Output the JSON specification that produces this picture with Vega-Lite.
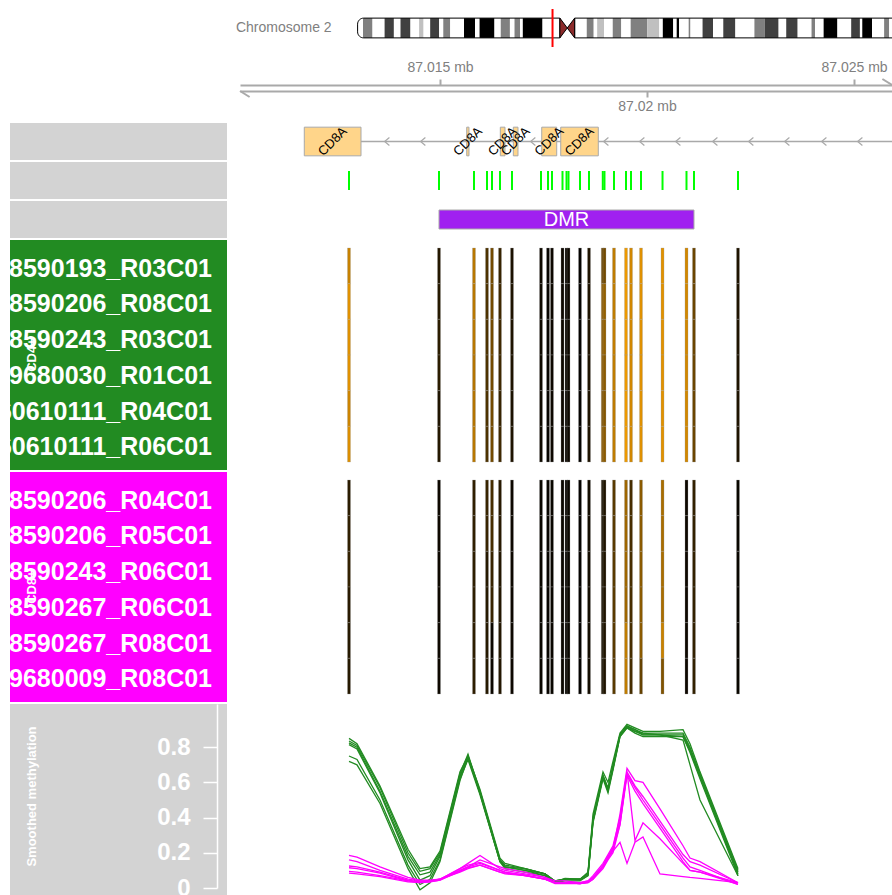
{
"$schema": "https://vega.github.io/schema/vega-lite/v6.json",
"padding": {"left": 10, "top": 8, "right": 0, "bottom": 0},
"background": "white",
"config": {"view": {"stroke": null}, "font": "Liberation Sans"},
"datasets": {
"samples": [
{"id":"S1","sample":"6198590193_R03C01","group":"CD4+"},
{"id":"S2","sample":"6198590206_R08C01","group":"CD4+"},
{"id":"S3","sample":"6198590243_R03C01","group":"CD4+"},
{"id":"S4","sample":"5579680030_R01C01","group":"CD4+"},
{"id":"S5","sample":"7760610111_R04C01","group":"CD4+"},
{"id":"S6","sample":"7760610111_R06C01","group":"CD4+"},
{"id":"S7","sample":"6198590206_R04C01","group":"CD8+"},
{"id":"S8","sample":"6198590206_R05C01","group":"CD8+"},
{"id":"S9","sample":"6198590243_R06C01","group":"CD8+"},
{"id":"S10","sample":"6198590267_R06C01","group":"CD8+"},
{"id":"S11","sample":"6198590267_R08C01","group":"CD8+"},
{"id":"S12","sample":"5579680009_R08C01","group":"CD8+"}
],
"groups": [
{"group":"CD4+","anchor":"6198590243_R03C01","f":0.101},
{"group":"CD8+","anchor":"6198590243_R06C01","f":0.101}
],
"cpg": [
{"pos":87012802,"S1":0.78,"S2":0.88,"S3":0.87,"S4":0.88,"S5":0.8,"S6":0.86,"S7":0.17,"S8":0.19,"S9":0.2,"S10":0.16,"S11":0.15,"S12":0.15},
{"pos":87014976,"S1":0.14,"S2":0.15,"S3":0.17,"S4":0.17,"S5":0.12,"S6":0.14,"S7":0.05,"S8":0.05,"S9":0.05,"S10":0.05,"S11":0.05,"S12":0.05},
{"pos":87015821,"S1":0.72,"S2":0.72,"S3":0.72,"S4":0.7,"S5":0.7,"S6":0.72,"S7":0.19,"S8":0.19,"S9":0.18,"S10":0.18,"S11":0.18,"S12":0.18},
{"pos":87016135,"S1":0.3,"S2":0.3,"S3":0.3,"S4":0.3,"S5":0.3,"S6":0.3,"S7":0.22,"S8":0.22,"S9":0.15,"S10":0.15,"S11":0.15,"S12":0.15},
{"pos":87016256,"S1":0.45,"S2":0.45,"S3":0.45,"S4":0.45,"S5":0.45,"S6":0.45,"S7":0.28,"S8":0.28,"S9":0.22,"S10":0.22,"S11":0.05,"S12":0.05},
{"pos":87016449,"S1":0.22,"S2":0.25,"S3":0.25,"S4":0.25,"S5":0.22,"S6":0.25,"S7":0.16,"S8":0.16,"S9":0.14,"S10":0.14,"S11":0.14,"S12":0.14},
{"pos":87016739,"S1":0.11,"S2":0.12,"S3":0.12,"S4":0.12,"S5":0.11,"S6":0.12,"S7":0.05,"S8":0.05,"S9":0.05,"S10":0.05,"S11":0.05,"S12":0.05},
{"pos":87017440,"S1":0.06,"S2":0.06,"S3":0.06,"S4":0.06,"S5":0.06,"S6":0.06,"S7":0.04,"S8":0.04,"S9":0.04,"S10":0.04,"S11":0.04,"S12":0.04},
{"pos":87017609,"S1":0.03,"S2":0.03,"S3":0.03,"S4":0.03,"S5":0.03,"S6":0.03,"S7":0.03,"S8":0.03,"S9":0.03,"S10":0.03,"S11":0.03,"S12":0.03},
{"pos":87017705,"S1":0.05,"S2":0.05,"S3":0.05,"S4":0.05,"S5":0.05,"S6":0.05,"S7":0.04,"S8":0.04,"S9":0.04,"S10":0.04,"S11":0.04,"S12":0.04},
{"pos":87017959,"S1":0.05,"S2":0.05,"S3":0.05,"S4":0.05,"S5":0.05,"S6":0.05,"S7":0.04,"S8":0.04,"S9":0.04,"S10":0.04,"S11":0.04,"S12":0.04},
{"pos":87018056,"S1":0.04,"S2":0.04,"S3":0.04,"S4":0.04,"S5":0.04,"S6":0.04,"S7":0.03,"S8":0.03,"S9":0.03,"S10":0.03,"S11":0.03,"S12":0.03},
{"pos":87018104,"S1":0.05,"S2":0.05,"S3":0.05,"S4":0.05,"S5":0.05,"S6":0.05,"S7":0.04,"S8":0.04,"S9":0.04,"S10":0.04,"S11":0.04,"S12":0.04},
{"pos":87018382,"S1":0.02,"S2":0.02,"S3":0.02,"S4":0.02,"S5":0.02,"S6":0.02,"S7":0.02,"S8":0.02,"S9":0.02,"S10":0.02,"S11":0.02,"S12":0.02},
{"pos":87018599,"S1":0.12,"S2":0.12,"S3":0.13,"S4":0.12,"S5":0.12,"S6":0.12,"S7":0.08,"S8":0.08,"S9":0.08,"S10":0.08,"S11":0.08,"S12":0.08},
{"pos":87018932,"S1":0.42,"S2":0.55,"S3":0.55,"S4":0.55,"S5":0.5,"S6":0.55,"S7":0.1,"S8":0.1,"S9":0.1,"S10":0.1,"S11":0.1,"S12":0.1},
{"pos":87018973,"S1":0.45,"S2":0.58,"S3":0.58,"S4":0.55,"S5":0.52,"S6":0.55,"S7":0.12,"S8":0.12,"S9":0.12,"S10":0.12,"S11":0.12,"S12":0.12},
{"pos":87019203,"S1":0.75,"S2":0.75,"S3":0.76,"S4":0.75,"S5":0.74,"S6":0.75,"S7":0.35,"S8":0.35,"S9":0.35,"S10":0.35,"S11":0.35,"S12":0.35},
{"pos":87019493,"S1":0.93,"S2":0.93,"S3":0.93,"S4":0.93,"S5":0.93,"S6":0.93,"S7":0.62,"S8":0.62,"S9":0.62,"S10":0.62,"S11":0.75,"S12":0.75},
{"pos":87019614,"S1":0.82,"S2":0.82,"S3":0.82,"S4":0.82,"S5":0.82,"S6":0.82,"S7":0.28,"S8":0.28,"S9":0.28,"S10":0.28,"S11":0.28,"S12":0.28},
{"pos":87019855,"S1":0.88,"S2":0.88,"S3":0.88,"S4":0.88,"S5":0.88,"S6":0.88,"S7":0.55,"S8":0.55,"S9":0.55,"S10":0.55,"S11":0.55,"S12":0.4},
{"pos":87020375,"S1":0.88,"S2":0.88,"S3":0.88,"S4":0.88,"S5":0.88,"S6":0.88,"S7":0.66,"S8":0.66,"S9":0.66,"S10":0.66,"S11":0.78,"S12":0.5},
{"pos":87020954,"S1":0.82,"S2":0.82,"S3":0.82,"S4":0.82,"S5":0.82,"S6":0.82,"S7":0.05,"S8":0.05,"S9":0.05,"S10":0.05,"S11":0.05,"S12":0.05},
{"pos":87021135,"S1":0.42,"S2":0.42,"S3":0.42,"S4":0.42,"S5":0.42,"S6":0.42,"S7":0.2,"S8":0.2,"S9":0.2,"S10":0.2,"S11":0.2,"S12":0.2},
{"pos":87022198,"S1":0.12,"S2":0.12,"S3":0.12,"S4":0.12,"S5":0.12,"S6":0.12,"S7":0.04,"S8":0.04,"S9":0.04,"S10":0.04,"S11":0.04,"S12":0.04}
],
"smooth": [
{"pos":87012802,"S1":0.85,"S2":0.835,"S3":0.825,"S4":0.815,"S5":0.75,"S6":0.72,"S7":0.185,"S8":0.16,"S9":0.125,"S10":0.115,"S11":0.095,"S12":0.085},
{"pos":87012995,"S1":0.82,"S2":0.81,"S3":0.8,"S4":0.79,"S5":0.73,"S6":0.7,"S7":0.175,"S8":0.15,"S9":0.12,"S10":0.11,"S11":0.09,"S12":0.08},
{"pos":87013551,"S1":0.58,"S2":0.57,"S3":0.55,"S4":0.54,"S5":0.5,"S6":0.48,"S7":0.12,"S8":0.1,"S9":0.09,"S10":0.085,"S11":0.07,"S12":0.065},
{"pos":87014227,"S1":0.22,"S2":0.2,"S3":0.18,"S4":0.16,"S5":0.13,"S6":0.11,"S7":0.06,"S8":0.05,"S9":0.045,"S10":0.04,"S11":0.04,"S12":0.035},
{"pos":87014517,"S1":0.11,"S2":0.095,"S3":0.075,"S4":0.045,"S5":0.02,"S6":-0.01,"S7":0.045,"S8":0.04,"S9":0.035,"S10":0.03,"S11":0.035,"S12":0.03},
{"pos":87014758,"S1":0.12,"S2":0.11,"S3":0.09,"S4":0.07,"S5":0.05,"S6":0.03,"S7":0.045,"S8":0.04,"S9":0.04,"S10":0.035,"S11":0.04,"S12":0.035},
{"pos":87015000,"S1":0.21,"S2":0.2,"S3":0.19,"S4":0.18,"S5":0.16,"S6":0.15,"S7":0.05,"S8":0.05,"S9":0.05,"S10":0.045,"S11":0.05,"S12":0.045},
{"pos":87015483,"S1":0.66,"S2":0.65,"S3":0.64,"S4":0.63,"S5":0.62,"S6":0.61,"S7":0.1,"S8":0.11,"S9":0.09,"S10":0.1,"S11":0.11,"S12":0.095},
{"pos":87015676,"S1":0.75,"S2":0.76,"S3":0.74,"S4":0.75,"S5":0.73,"S6":0.74,"S7":0.12,"S8":0.14,"S9":0.11,"S10":0.12,"S11":0.13,"S12":0.115},
{"pos":87015966,"S1":0.56,"S2":0.55,"S3":0.54,"S4":0.55,"S5":0.53,"S6":0.54,"S7":0.16,"S8":0.185,"S9":0.13,"S10":0.14,"S11":0.145,"S12":0.13},
{"pos":87016449,"S1":0.17,"S2":0.16,"S3":0.15,"S4":0.16,"S5":0.15,"S6":0.15,"S7":0.12,"S8":0.11,"S9":0.09,"S10":0.1,"S11":0.1,"S12":0.09},
{"pos":87016570,"S1":0.14,"S2":0.13,"S3":0.12,"S4":0.12,"S5":0.11,"S6":0.12,"S7":0.11,"S8":0.1,"S9":0.085,"S10":0.09,"S11":0.09,"S12":0.08},
{"pos":87017053,"S1":0.11,"S2":0.11,"S3":0.1,"S4":0.11,"S5":0.09,"S6":0.1,"S7":0.09,"S8":0.08,"S9":0.07,"S10":0.07,"S11":0.075,"S12":0.07},
{"pos":87017536,"S1":0.08,"S2":0.08,"S3":0.07,"S4":0.08,"S5":0.07,"S6":0.08,"S7":0.06,"S8":0.06,"S9":0.05,"S10":0.05,"S11":0.05,"S12":0.05},
{"pos":87017778,"S1":0.035,"S2":0.04,"S3":0.03,"S4":0.04,"S5":0.03,"S6":0.04,"S7":0.04,"S8":0.03,"S9":0.03,"S10":0.03,"S11":0.03,"S12":0.025},
{"pos":87018019,"S1":0.055,"S2":0.05,"S3":0.05,"S4":0.05,"S5":0.04,"S6":0.05,"S7":0.04,"S8":0.03,"S9":0.03,"S10":0.03,"S11":0.03,"S12":0.025},
{"pos":87018382,"S1":0.05,"S2":0.05,"S3":0.045,"S4":0.05,"S5":0.04,"S6":0.05,"S7":0.03,"S8":0.03,"S9":0.025,"S10":0.025,"S11":0.025,"S12":0.025},
{"pos":87018575,"S1":0.09,"S2":0.08,"S3":0.07,"S4":0.08,"S5":0.07,"S6":0.08,"S7":0.04,"S8":0.04,"S9":0.035,"S10":0.035,"S11":0.03,"S12":0.03},
{"pos":87018696,"S1":0.42,"S2":0.4,"S3":0.38,"S4":0.39,"S5":0.37,"S6":0.38,"S7":0.06,"S8":0.07,"S9":0.06,"S10":0.06,"S11":0.05,"S12":0.05},
{"pos":87018937,"S1":0.66,"S2":0.64,"S3":0.63,"S4":0.64,"S5":0.62,"S6":0.63,"S7":0.12,"S8":0.14,"S9":0.13,"S10":0.12,"S11":0.12,"S12":0.11},
{"pos":87019058,"S1":0.6,"S2":0.57,"S3":0.55,"S4":0.56,"S5":0.54,"S6":0.56,"S7":0.17,"S8":0.19,"S9":0.18,"S10":0.17,"S11":0.17,"S12":0.16},
{"pos":87019179,"S1":0.72,"S2":0.7,"S3":0.68,"S4":0.69,"S5":0.67,"S6":0.68,"S7":0.22,"S8":0.24,"S9":0.23,"S10":0.22,"S11":0.21,"S12":0.2},
{"pos":87019348,"S1":0.88,"S2":0.87,"S3":0.86,"S4":0.87,"S5":0.86,"S6":0.87,"S7":0.42,"S8":0.4,"S9":0.38,"S10":0.36,"S11":0.26,"S12":0.36},
{"pos":87019517,"S1":0.93,"S2":0.92,"S3":0.91,"S4":0.92,"S5":0.91,"S6":0.92,"S7":0.68,"S8":0.66,"S9":0.65,"S10":0.64,"S11":0.14,"S12":0.66},
{"pos":87019710,"S1":0.91,"S2":0.9,"S3":0.89,"S4":0.9,"S5":0.88,"S6":0.89,"S7":0.61,"S8":0.58,"S9":0.57,"S10":0.55,"S11":0.26,"S12":0.27},
{"pos":87019903,"S1":0.89,"S2":0.88,"S3":0.88,"S4":0.87,"S5":0.86,"S6":0.87,"S7":0.6,"S8":0.52,"S9":0.5,"S10":0.48,"S11":0.29,"S12":0.37},
{"pos":87020314,"S1":0.89,"S2":0.88,"S3":0.87,"S4":0.87,"S5":0.86,"S6":0.87,"S7":0.45,"S8":0.38,"S9":0.36,"S10":0.34,"S11":0.08,"S12":0.28},
{"pos":87020870,"S1":0.9,"S2":0.88,"S3":0.87,"S4":0.86,"S5":0.86,"S6":0.84,"S7":0.24,"S8":0.19,"S9":0.17,"S10":0.15,"S11":0.065,"S12":0.14},
{"pos":87021039,"S1":0.82,"S2":0.8,"S3":0.79,"S4":0.78,"S5":0.77,"S6":0.7,"S7":0.17,"S8":0.15,"S9":0.12,"S10":0.1,"S11":0.06,"S12":0.1},
{"pos":87021280,"S1":0.66,"S2":0.65,"S3":0.64,"S4":0.63,"S5":0.62,"S6":0.5,"S7":0.15,"S8":0.13,"S9":0.1,"S10":0.09,"S11":0.055,"S12":0.09},
{"pos":87022198,"S1":0.11,"S2":0.1,"S3":0.09,"S4":0.08,"S5":0.07,"S6":0.07,"S7":0.03,"S8":0.03,"S9":0.02,"S10":0.02,"S11":0.03,"S12":0.03}
],
"exons": [
{"gene":"CD8A","start":87011722,"end":87013092},
{"gene":"CD8A","start":87015645,"end":87015700},
{"gene":"CD8A","start":87016457,"end":87016570},
{"gene":"CD8A","start":87016771,"end":87016884},
{"gene":"CD8A","start":87017457,"end":87017819},
{"gene":"CD8A","start":87017916,"end":87018824}
],
"genespan": [{"gene":"CD8A","start":87011722,"end":87035519}],
"arrows": [
{"gene":"CD8A","pos":87013720},{"gene":"CD8A","pos":87014589},{"gene":"CD8A","pos":87017246},
{"gene":"CD8A","pos":87019010},{"gene":"CD8A","pos":87019879},{"gene":"CD8A","pos":87020749},
{"gene":"CD8A","pos":87021643},{"gene":"CD8A","pos":87022512},{"gene":"CD8A","pos":87023382},
{"gene":"CD8A","pos":87024276},{"gene":"CD8A","pos":87025145}
],
"dmr": [{"name":"DMR","start":87014976,"end":87021135}],
"ticks": [{"pos":87015000},{"pos":87020000},{"pos":87025000}],
"bands": [
{"start":0,"end":2.4,"stain":"gneg"},{"start":2.4,"end":6.65,"stain":"gpos50"},{"start":6.65,"end":12.05,"stain":"gneg"},
{"start":12.05,"end":16.2,"stain":"gpos75"},{"start":16.2,"end":19.15,"stain":"gneg"},{"start":19.15,"end":23.6,"stain":"gpos75"},
{"start":23.6,"end":27.45,"stain":"gneg"},{"start":27.45,"end":29.45,"stain":"gpos25"},{"start":29.45,"end":32.4,"stain":"gneg"},
{"start":32.4,"end":36.4,"stain":"gpos75"},{"start":36.4,"end":38.25,"stain":"gneg"},{"start":38.25,"end":41.35,"stain":"gpos50"},
{"start":41.35,"end":47.5,"stain":"gneg"},{"start":47.5,"end":52.4,"stain":"gpos100"},{"start":52.4,"end":54.45,"stain":"gneg"},
{"start":54.45,"end":61.1,"stain":"gpos100"},{"start":61.1,"end":63.9,"stain":"gneg"},{"start":63.9,"end":68.0,"stain":"gpos50"},
{"start":68.0,"end":70.05,"stain":"gneg"},{"start":70.05,"end":72.5,"stain":"gpos50"},{"start":72.5,"end":73.75,"stain":"gneg"},
{"start":73.75,"end":82.55,"stain":"gpos100"},{"start":82.55,"end":90.3,"stain":"gneg"},
{"start":96.9,"end":102.3,"stain":"gneg"},{"start":102.3,"end":105.4,"stain":"gpos50"},{"start":105.4,"end":106.95,"stain":"gneg"},
{"start":106.95,"end":110.05,"stain":"gpos25"},{"start":110.05,"end":113.9,"stain":"gneg"},{"start":113.9,"end":117.7,"stain":"gpos50"},
{"start":117.7,"end":121.9,"stain":"gneg"},{"start":121.9,"end":129.3,"stain":"gpos50"},{"start":129.3,"end":134.7,"stain":"gpos25"},
{"start":134.7,"end":136.25,"stain":"gneg"},{"start":136.25,"end":140.9,"stain":"gpos100"},{"start":140.9,"end":142.45,"stain":"gneg"},
{"start":142.45,"end":143.5,"stain":"gpos100"},{"start":143.5,"end":147.8,"stain":"gneg"},{"start":147.8,"end":148.6,"stain":"gpos50"},
{"start":148.6,"end":154,"stain":"gneg"},{"start":154,"end":158.65,"stain":"gpos75"},{"start":158.65,"end":163.25,"stain":"gneg"},
{"start":163.25,"end":168.65,"stain":"gpos75"},{"start":168.65,"end":177.15,"stain":"gneg"},{"start":177.15,"end":181.8,"stain":"gpos50"},
{"start":181.8,"end":187.95,"stain":"gpos75"},{"start":187.95,"end":191.35,"stain":"gneg"},{"start":191.35,"end":196.45,"stain":"gpos75"},
{"start":196.45,"end":202.65,"stain":"gneg"},{"start":202.65,"end":204.2,"stain":"gpos50"},{"start":204.2,"end":208.05,"stain":"gneg"},
{"start":208.05,"end":214.2,"stain":"gpos100"},{"start":214.2,"end":220.35,"stain":"gneg"},{"start":220.35,"end":224.25,"stain":"gpos75"},
{"start":224.25,"end":225.3,"stain":"gneg"},{"start":225.3,"end":229.65,"stain":"gpos100"},{"start":229.65,"end":235.05,"stain":"gneg"},
{"start":235.05,"end":237.3,"stain":"gpos50"},{"start":237.3,"end":243.2,"stain":"gneg"}
],
"cen": [{"mb":90.3,"top":0.52,"bot":-0.52},{"mb":93.6,"top":0,"bot":0},{"mb":96.9,"top":0.52,"bot":-0.52}]
},
"spacing": 2,
"vconcat": [
{
"width": 882, "height": 42,
"layer": [
{"data": {"name": "bands"}, "mark": {"type": "rect", "clip": true},
 "encoding": {
  "x": {"field": "start", "type": "quantitative", "scale": {"domain": [-155.18, 238.57], "nice": false, "zero": false}, "axis": null},
  "x2": {"field": "end"},
  "y": {"datum": -0.52, "type": "quantitative", "scale": {"domain": [-1.21, 1], "nice": false, "zero": false}, "axis": null},
  "y2": {"datum": 0.52},
  "color": {"field": "stain", "type": "nominal", "scale": {"domain": ["gneg","gpos25","gpos50","gpos75","gpos100"], "range": ["#FFFFFF","#C0C0C0","#808080","#404040","#000000"]}, "legend": null}
 }},
{"data": {"values": [{"arm": "p", "start": 0, "end": 90.3}]}, "mark": {"type": "rect", "fillOpacity": 0, "stroke": "black", "strokeWidth": 1, "cornerRadiusTopLeft": 6, "cornerRadiusBottomLeft": 6, "clip": true},
 "encoding": {"x": {"field": "start", "type": "quantitative"}, "x2": {"field": "end"}, "y": {"datum": -0.52, "type": "quantitative"}, "y2": {"datum": 0.52}}},
{"data": {"values": [{"arm": "q", "start": 96.9, "end": 243.2}]}, "mark": {"type": "rect", "fillOpacity": 0, "stroke": "black", "strokeWidth": 1, "clip": true},
 "encoding": {"x": {"field": "start", "type": "quantitative"}, "x2": {"field": "end"}, "y": {"datum": -0.52, "type": "quantitative"}, "y2": {"datum": 0.52}}},
{"data": {"name": "cen"}, "mark": {"type": "area", "orient": "vertical", "fill": "#8B2B2B", "stroke": "black", "strokeWidth": 1},
 "encoding": {"x": {"field": "mb", "type": "quantitative"}, "y": {"field": "top", "type": "quantitative"}, "y2": {"field": "bot"}}},
{"data": {"values": [{"region": 87.018}]}, "mark": {"type": "rule", "color": "#FF0000", "strokeWidth": 2},
 "encoding": {"x": {"field": "region", "type": "quantitative"}, "y": {"datum": -1, "type": "quantitative"}, "y2": {"datum": 1}}},
{"data": {"values": [{"label": "Chromosome 2", "mb": 0}]}, "mark": {"type": "text", "align": "right", "baseline": "middle", "dx": -26, "fontSize": 14, "color": "#808080"},
 "encoding": {"x": {"field": "mb", "type": "quantitative"}, "y": {"datum": 0, "type": "quantitative"}, "text": {"field": "label"}}}
]
},
{
"hconcat": [
 {"width": 217, "height": 68, "data": {"values": [{"a": 1}]}, "mark": {"type": "point", "opacity": 0}, "encoding": {}},
 {
  "width": 652, "height": 68,
  "layer": [
   {"data": {"name": "ticks"}, "mark": {"type": "point", "opacity": 0},
    "encoding": {"x": {"field": "pos", "type": "quantitative", "scale": {"domain": [87010169, 87025918], "nice": false, "zero": false},
     "axis": {"orient": "top", "offset": -32, "values": [87015000, 87025000], "labelExpr": "format(datum.value/1000000, '.5~f') + ' mb'", "domainColor": "#A9A9A9", "domainWidth": 2, "tickColor": "#A9A9A9", "tickWidth": 2, "tickSize": 6, "labelColor": "#808080", "labelFontSize": 14, "labelFont": "Liberation Sans", "labelPadding": 5, "grid": false, "title": null, "labelFlush": false, "labelOverlap": false}},
     "y": {"datum": 0.5, "type": "quantitative", "scale": {"domain": [0, 1], "nice": false, "zero": false}, "axis": null}}},
   {"data": {"name": "ticks"}, "mark": {"type": "point", "opacity": 0},
    "encoding": {"x": {"field": "pos", "type": "quantitative",
     "axis": {"orient": "bottom", "offset": -30, "values": [87020000], "labelExpr": "format(datum.value/1000000, '.5~f') + ' mb'", "domainColor": "#A9A9A9", "domainWidth": 2, "tickColor": "#A9A9A9", "tickWidth": 2, "tickSize": 6, "labelColor": "#808080", "labelFontSize": 14, "labelFont": "Liberation Sans", "labelPadding": 2, "grid": false, "title": null, "labelFlush": false, "labelOverlap": false}},
     "y": {"datum": 0.5, "type": "quantitative"}}},
   {"data": {"values": [{"pos": 87025918}]}, "mark": {"type": "point", "shape": "M-1.2,-1L0,-0.25", "size": 256, "filled": false, "stroke": "#A9A9A9", "strokeWidth": 2, "opacity": 1},
    "encoding": {"x": {"field": "pos", "type": "quantitative", "axis": null}, "y": {"datum": 0.5, "type": "quantitative"}}},
   {"data": {"values": [{"pos": 87010169}]}, "mark": {"type": "point", "shape": "M0,0.5L1.2,1.25", "size": 256, "filled": false, "stroke": "#A9A9A9", "strokeWidth": 2, "opacity": 1},
    "encoding": {"x": {"field": "pos", "type": "quantitative", "axis": null}, "y": {"datum": 0.5, "type": "quantitative"}}}
  ],
  "resolve": {"axis": {"x": "independent"}}
 }
],
"spacing": 13, "bounds": "flush"
},
{"hconcat": [
  {"width": 217, "height": 37, "view": {"fill": "#D3D3D3"}, "data": {"values": [{"a": 1}]}, "mark": {"type": "point", "opacity": 0}, "encoding": {}},
  {"width": 652, "height": 37,
   "layer": [
    {"data": {"name": "genespan"}, "mark": {"type": "rule", "color": "#A9A9A9", "strokeWidth": 1.5, "clip": true},
     "encoding": {"x": {"field": "start", "type": "quantitative", "scale": {"domain": [87010169, 87025918], "nice": false, "zero": false}, "axis": null}, "x2": {"field": "end"},
      "y": {"field": "gene", "type": "nominal", "scale": {"type": "band", "paddingOuter": 0.145, "paddingInner": 0}, "axis": null}}},
    {"data": {"name": "arrows"}, "mark": {"type": "point", "shape": "M0.6,-1L-0.6,0L0.6,1", "size": 64, "filled": false, "stroke": "#A9A9A9", "strokeWidth": 1.2, "opacity": 1},
     "encoding": {"x": {"field": "pos", "type": "quantitative"}, "y": {"field": "gene", "type": "nominal"}}},
    {"data": {"name": "exons"}, "mark": {"type": "rect", "fill": "#FFD58A", "stroke": "#A9A9A9", "strokeWidth": 1, "clip": true},
     "encoding": {"x": {"field": "start", "type": "quantitative"}, "x2": {"field": "end"}, "y": {"field": "gene", "type": "nominal"}}},
    {"data": {"name": "exons"}, "transform": [{"calculate": "(datum.start + datum.end) / 2", "as": "mid"}],
     "mark": {"type": "text", "angle": -45, "fontSize": 13, "color": "black", "baseline": "middle"},
     "encoding": {"x": {"field": "mid", "type": "quantitative"}, "y": {"field": "gene", "type": "nominal"}, "text": {"field": "gene"}}}
   ]}
 ], "spacing": 13, "bounds": "flush"},
{"hconcat": [
  {"width": 217, "height": 37, "view": {"fill": "#D3D3D3"}, "data": {"values": [{"a": 1}]}, "mark": {"type": "point", "opacity": 0}, "encoding": {}},
  {"width": 652, "height": 37, "data": {"name": "cpg"},
   "mark": {"type": "tick", "color": "#00FF00", "thickness": 2, "size": 19, "opacity": 1},
   "encoding": {"x": {"field": "pos", "type": "quantitative", "scale": {"domain": [87010169, 87025918], "nice": false, "zero": false}, "axis": null},
    "y": {"datum": "CpG", "type": "nominal", "axis": null}}}
 ], "spacing": 13, "bounds": "flush"},
{"hconcat": [
  {"width": 217, "height": 37, "view": {"fill": "#D3D3D3"}, "data": {"values": [{"a": 1}]}, "mark": {"type": "point", "opacity": 0}, "encoding": {}},
  {"width": 652, "height": 37, "data": {"name": "dmr"},
   "layer": [
    {"mark": {"type": "rect", "fill": "#A020F0", "stroke": "#A9A9A9", "strokeWidth": 1},
     "encoding": {"x": {"field": "start", "type": "quantitative", "scale": {"domain": [87010169, 87025918], "nice": false, "zero": false}, "axis": null}, "x2": {"field": "end"},
      "y": {"field": "name", "type": "nominal", "scale": {"type": "band", "paddingOuter": 0.474, "paddingInner": 0}, "axis": null}}},
    {"transform": [{"calculate": "(datum.start + datum.end) / 2", "as": "mid"}],
     "mark": {"type": "text", "color": "white", "fontSize": 20, "baseline": "middle"},
     "encoding": {"x": {"field": "mid", "type": "quantitative"}, "y": {"field": "name", "type": "nominal"}, "text": {"field": "name"}}}
   ]}
 ], "spacing": 13, "bounds": "flush"},
{"hconcat": [
  {"width": 217, "height": 230, "view": {"fill": "#228B22"},
   "layer": [
    {"data": {"name": "samples"}, "transform": [{"filter": "datum.group == 'CD4+'"}],
     "mark": {"type": "text", "align": "right", "baseline": "middle", "fontSize": 25, "fontWeight": "bold", "color": "white", "clip": true, "dx": -15, "dy": 3},
     "encoding": {"x": {"datum": 1, "type": "quantitative", "scale": {"domain": [0, 1]}, "axis": null},
      "y": {"field": "sample", "type": "nominal", "scale": {"type": "band", "domain": ["6198590193_R03C01","6198590206_R08C01","6198590243_R03C01","5579680030_R01C01","7760610111_R04C01","7760610111_R06C01"], "paddingOuter": 0.224, "paddingInner": 0}, "axis": null},
      "text": {"field": "sample"}}},
    {"data": {"name": "groups"}, "transform": [{"filter": "datum.group == 'CD4+'"}],
     "mark": {"type": "text", "angle": 270, "baseline": "middle", "fontSize": 13, "fontWeight": "bold", "color": "white"},
     "encoding": {"x": {"field": "f", "type": "quantitative"}, "y": {"field": "anchor", "type": "nominal", "bandPosition": 1}, "text": {"field": "group"}}}
   ]},
  {"width": 652, "height": 230, "data": {"name": "cpg"},
   "transform": [
    {"fold": ["S1","S2","S3","S4","S5","S6","S7","S8","S9","S10","S11","S12"], "as": ["id", "beta"]},
    {"lookup": "id", "from": {"data": {"name": "samples"}, "key": "id", "fields": ["sample", "group"]}},
    {"filter": "datum.group == 'CD4+'"}
   ],
   "mark": {"type": "tick", "orient": "vertical", "thickness": 3, "size": 35.7, "opacity": 1, "stroke": "#A0A0A0", "strokeWidth": 0.6, "strokeOpacity": 0.5},
   "encoding": {
    "x": {"field": "pos", "type": "quantitative", "scale": {"domain": [87010169, 87025918], "nice": false, "zero": false}, "axis": null},
    "y": {"field": "sample", "type": "nominal", "scale": {"type": "band", "domain": ["6198590193_R03C01","6198590206_R08C01","6198590243_R03C01","5579680030_R01C01","7760610111_R04C01","7760610111_R06C01"], "paddingOuter": 0.224, "paddingInner": 0}, "axis": null},
    "color": {"field": "beta", "type": "quantitative", "scale": {"domain": [0, 1], "range": ["#000000", "#FFA500"], "interpolate": "rgb"}, "legend": null}
   }}
 ], "spacing": 13, "bounds": "flush"},
{"hconcat": [
  {"width": 217, "height": 230, "view": {"fill": "#FF00FF"},
   "layer": [
    {"data": {"name": "samples"}, "transform": [{"filter": "datum.group == 'CD8+'"}],
     "mark": {"type": "text", "align": "right", "baseline": "middle", "fontSize": 25, "fontWeight": "bold", "color": "white", "clip": true, "dx": -15, "dy": 3},
     "encoding": {"x": {"datum": 1, "type": "quantitative", "scale": {"domain": [0, 1]}, "axis": null},
      "y": {"field": "sample", "type": "nominal", "scale": {"type": "band", "domain": ["6198590206_R04C01","6198590206_R05C01","6198590243_R06C01","6198590267_R06C01","6198590267_R08C01","5579680009_R08C01"], "paddingOuter": 0.224, "paddingInner": 0}, "axis": null},
      "text": {"field": "sample"}}},
    {"data": {"name": "groups"}, "transform": [{"filter": "datum.group == 'CD8+'"}],
     "mark": {"type": "text", "angle": 270, "baseline": "middle", "fontSize": 13, "fontWeight": "bold", "color": "white"},
     "encoding": {"x": {"field": "f", "type": "quantitative"}, "y": {"field": "anchor", "type": "nominal", "bandPosition": 1}, "text": {"field": "group"}}}
   ]},
  {"width": 652, "height": 230, "data": {"name": "cpg"},
   "transform": [
    {"fold": ["S1","S2","S3","S4","S5","S6","S7","S8","S9","S10","S11","S12"], "as": ["id", "beta"]},
    {"lookup": "id", "from": {"data": {"name": "samples"}, "key": "id", "fields": ["sample", "group"]}},
    {"filter": "datum.group == 'CD8+'"}
   ],
   "mark": {"type": "tick", "orient": "vertical", "thickness": 3, "size": 35.7, "opacity": 1, "stroke": "#A0A0A0", "strokeWidth": 0.6, "strokeOpacity": 0.5},
   "encoding": {
    "x": {"field": "pos", "type": "quantitative", "scale": {"domain": [87010169, 87025918], "nice": false, "zero": false}, "axis": null},
    "y": {"field": "sample", "type": "nominal", "scale": {"type": "band", "domain": ["6198590206_R04C01","6198590206_R05C01","6198590243_R06C01","6198590267_R06C01","6198590267_R08C01","5579680009_R08C01"], "paddingOuter": 0.224, "paddingInner": 0}, "axis": null},
    "color": {"field": "beta", "type": "quantitative", "scale": {"domain": [0, 1], "range": ["#000000", "#FFA500"], "interpolate": "rgb"}, "legend": null}
   }}
 ], "spacing": 13, "bounds": "flush"},
{"hconcat": [
  {"width": 217, "height": 195, "view": {"fill": "#D3D3D3"}, "data": {"values": [{"a": 1}]}, "mark": {"type": "point", "opacity": 0}, "encoding": {}},
  {"width": 652, "height": 184, "data": {"name": "smooth"},
   "transform": [
    {"fold": ["S1","S2","S3","S4","S5","S6","S7","S8","S9","S10","S11","S12"], "as": ["id", "v"]},
    {"lookup": "id", "from": {"data": {"name": "samples"}, "key": "id", "fields": ["group"]}}
   ],
   "mark": {"type": "line", "strokeWidth": 1.3},
   "encoding": {
    "x": {"field": "pos", "type": "quantitative", "scale": {"domain": [87010169, 87025918], "nice": false, "zero": false}, "axis": null},
    "y": {"field": "v", "type": "quantitative", "scale": {"domain": [0, 1.0455], "nice": false, "zero": false},
     "axis": {"orient": "left", "offset": 23, "values": [0, 0.2, 0.4, 0.6, 0.8], "format": "~g", "domainColor": "white", "domainWidth": 1.5, "tickColor": "white", "tickWidth": 1.5, "tickSize": 14, "labelColor": "white", "labelFontSize": 24, "labelFontWeight": "bold", "labelFont": "Liberation Sans", "labelPadding": 13, "labelFlush": false, "labelOverlap": false, "grid": false,
      "title": "Smoothed methylation", "titleColor": "white", "titleFontSize": 13, "titleFontWeight": "bold", "titleFont": "Liberation Sans", "titlePadding": 118}},
    "color": {"field": "group", "type": "nominal", "scale": {"domain": ["CD4+", "CD8+"], "range": ["#228B22", "#FF00FF"]}, "legend": null},
    "detail": {"field": "id"}
   }}
 ], "spacing": 13, "bounds": "flush"}
]
}
